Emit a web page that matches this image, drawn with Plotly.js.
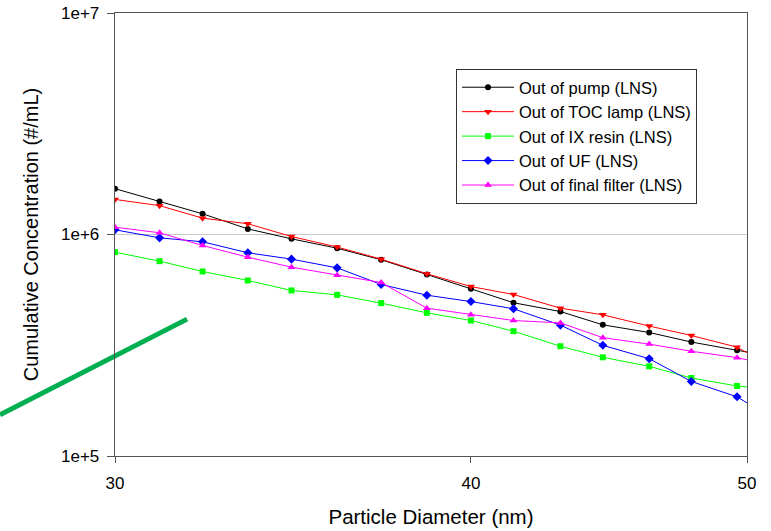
<!DOCTYPE html>
<html>
<head>
<meta charset="utf-8">
<script src="https://cdn.plot.ly/plotly-3.0.1.min.js"></script>
<style>html,body{margin:0;padding:0;background:#fff;}#chart{width:771px;height:531px;}</style>
</head>
<body>
<div id="chart"></div>
<script>
// Particle diameter (nm) — channel midpoints; last point lies just past the axis end
const diameter = [30.0, 31.1, 32.2, 33.4, 34.6, 35.9, 37.2, 38.6, 40.0, 41.4, 43.0, 44.5, 46.2, 47.8, 49.6, 51.4];

// Cumulative concentration (#/mL)
const pump        = [1.61e6, 1.41e6, 1.24e6, 1.06e6, 0.956e6, 0.867e6, 0.769e6, 0.660e6, 0.569e6, 0.492e6, 0.449e6, 0.391e6, 0.361e6, 0.327e6, 0.300e6, 0.279e6];
const tocLamp     = [1.44e6, 1.35e6, 1.185e6, 1.118e6, 0.979e6, 0.878e6, 0.774e6, 0.665e6, 0.582e6, 0.536e6, 0.465e6, 0.434e6, 0.386e6, 0.350e6, 0.310e6, 0.240e6];
const ixResin     = [0.832e6, 0.758e6, 0.681e6, 0.620e6, 0.559e6, 0.534e6, 0.490e6, 0.443e6, 0.409e6, 0.366e6, 0.313e6, 0.279e6, 0.254e6, 0.225e6, 0.207e6, 0.198e6];
const uf          = [1.050e6, 0.966e6, 0.927e6, 0.827e6, 0.774e6, 0.707e6, 0.595e6, 0.532e6, 0.498e6, 0.462e6, 0.390e6, 0.316e6, 0.275e6, 0.217e6, 0.185e6, 0.140e6];
const finalFilter = [1.079e6, 1.018e6, 0.892e6, 0.790e6, 0.712e6, 0.655e6, 0.607e6, 0.465e6, 0.434e6, 0.409e6, 0.399e6, 0.342e6, 0.320e6, 0.297e6, 0.278e6, 0.251e6];

const seriesNames = ["Out of pump (LNS)", "Out of TOC lamp (LNS)", "Out of IX resin (LNS)", "Out of UF (LNS)", "Out of final filter (LNS)"];
const xTickVals = [30, 40, 50];
const xTickText = ["30", "40", "50"];
const yTickVals = [1e5, 1e6, 1e7];
const yTickText = ["1e+5", "1e+6", "1e+7"];
const yMinorVals = [2e5,3e5,4e5,5e5,6e5,7e5,8e5,9e5,1e6,2e6,3e6,4e6,5e6,6e6,7e6,8e6,9e6];

const seriesData = [pump, tocLamp, ixResin, uf, finalFilter];
const colors = ["#000000", "#ff0000", "#00ff00", "#0000ff", "#ff00ff"];
const symbols = ["circle", "triangle-down", "square", "diamond", "triangle-up"];
const msizes = [6, 7, 6, 7, 7];

const traces = seriesData.map((ys, i) => ({
  x: diameter, y: ys, name: seriesNames[i], type: "scatter", mode: "lines+markers",
  line: {color: colors[i], width: 1},
  marker: {color: colors[i], symbol: symbols[i], size: msizes[i]},
  cliponaxis: true
}));

const axisColor = "#555555";
const layout = {
  width: 771, height: 531,
  margin: {l: 115, r: 24, t: 13, b: 75},
  paper_bgcolor: "#ffffff", plot_bgcolor: "#ffffff",
  font: {family: "Liberation Sans, Arial, sans-serif", size: 17, color: "#000"},
  showlegend: true,
  legend: {
    x: 0.5396, y: 0.8736, xanchor: "left", yanchor: "top",
    bordercolor: "#333", borderwidth: 1, bgcolor: "#fff",
    font: {size: 16.5, family: "Liberation Sans, Arial, sans-serif"},
    itemwidth: 52, entrywidth: 250, entrywidthmode: "pixels", tracegroupgap: 0
  },
  xaxis: {
    type: "log", range: [Math.log10(30), Math.log10(50)],
    tickvals: xTickVals, ticktext: xTickText,
    ticks: "outside", ticklen: 6, tickcolor: axisColor, tickwidth: 1,
    showline: true, linecolor: axisColor, linewidth: 1.3, mirror: true,
    showgrid: false, zeroline: false,
    tickfont: {size: 17}, ticklabelstandoff: 5,
    title: {text: "Particle Diameter (nm)", font: {size: 20.5}, standoff: 18}
  },
  yaxis: {
    type: "log", range: [5, 7],
    tickvals: yTickVals, ticktext: yTickText,
    ticks: "outside", ticklen: 7, tickcolor: axisColor, tickwidth: 1,
    showline: true, linecolor: axisColor, linewidth: 1.3, mirror: true,
    showgrid: true, gridcolor: "#c8c8c8", gridwidth: 1, zeroline: false,
    tickfont: {size: 17}, ticklabelstandoff: 4,
    title: {text: "Cumulative Concentration (#/mL)", font: {size: 20}, standoff: 17}
  },
  yaxis2: {
    type: "log", range: [5, 7], overlaying: "y", side: "right",
    tickvals: yMinorVals, showticklabels: false,
    ticks: "inside", ticklen: 4, tickcolor: axisColor, tickwidth: 1,
    showline: false, showgrid: false, zeroline: false
  },
  shapes: [{
    type: "line", xref: "paper", yref: "paper", layer: "below",
    x0: -0.182, y0: 0.093, x1: 0.114, y1: 0.309,
    line: {color: "#00b050", width: 5}
  }]
};

Plotly.newPlot("chart", traces, layout, {displayModeBar: false, staticPlot: true});
</script>
</body>
</html>
